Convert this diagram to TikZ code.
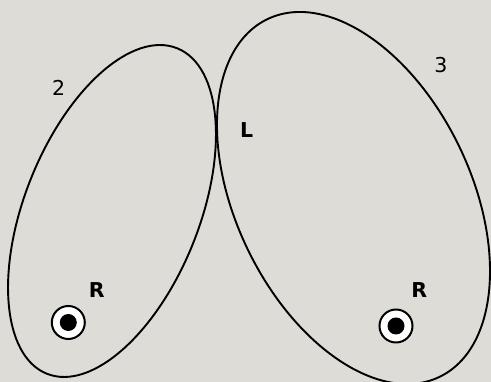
\documentclass[tikz,border=0pt]{standalone}
\usepackage{fontspec}
\setmainfont{DejaVu Sans}
\definecolor{bg}{RGB}{221,220,214}
\begin{document}
\begin{tikzpicture}[x=1pt,y=1pt,
  loop/.style={draw=black,line width=1.9pt},
  lbl/.style={font=\fontsize{20.5}{20.5}\selectfont\bfseries,inner sep=0pt},
  num/.style={font=\fontsize{20.5}{20.5}\selectfont,inner sep=0pt},
  ring/.style={circle,draw=black,fill=white,line width=2pt,minimum size=33pt,inner sep=0pt},
  dot/.style={circle,fill=black,minimum size=17pt,inner sep=0pt}]
\fill[bg] (0,0) rectangle (491,382);
\useasboundingbox (0,0) rectangle (491,382);
% loops
\draw[loop,rotate around={68.2:(112,171)}] (112,171) ellipse [x radius=175.3, y radius=87.3];
\draw[loop,rotate around={115.7:(353.5,184)}] (353.5,184) ellipse [x radius=198.5, y radius=117.6];
% labels
\node[num] (n2) at (58.7,294) {2};
\node[num] (n3) at (441,316.5) {3};
\node[lbl] (L) at (246.7,252) {L};
\node[lbl] (R1) at (96.7,92) {R};
\node[lbl] (R2) at (419.3,92) {R};
% bullseyes
\node[ring] (c1) at (68.3,59.5) {};
\node[dot] (d1) at (c1.center) {};
\node[ring] (c2) at (396,56) {};
\node[dot] (d2) at (c2.center) {};
\end{tikzpicture}
\end{document}
